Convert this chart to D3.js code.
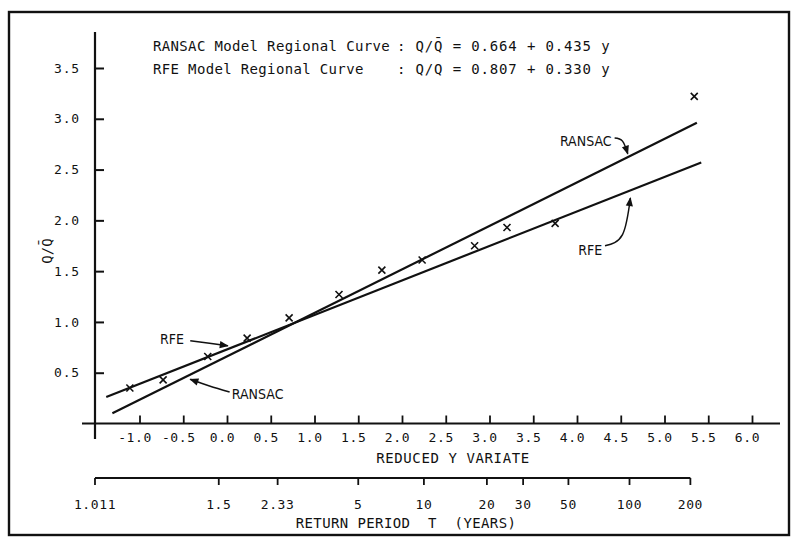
<!DOCTYPE html>
<html>
<head>
<meta charset="utf-8">
<script src="https://cdn.jsdelivr.net/npm/d3@7"></script>
<style>
  html, body { margin: 0; padding: 0; background: #fff; }
  svg text { font-family: "DejaVu Sans Mono", "Liberation Mono", monospace; fill: #111; }
</style>
</head>
<body>
<svg id="chart" width="792" height="539"></svg>
<script>
// data
const reducedTicks = [-1.0, -0.5, 0.0, 0.5, 1.0, 1.5, 2.0, 2.5, 3.0, 3.5, 4.0, 4.5, 5.0, 5.5, 6.0];
const reducedLabels = ["-1.0", "-0.5", "0.0", "0.5", "1.0", "1.5", "2.0", "2.5", "3.0", "3.5", "4.0", "4.5", "5.0", "5.5", "6.0"];
const qTicks = [0.5, 1.0, 1.5, 2.0, 2.5, 3.0, 3.5];
const qLabels = ["0.5", "1.0", "1.5", "2.0", "2.5", "3.0", "3.5"];
const returnPeriods = [1.011, 1.5, 2.33, 5, 10, 20, 30, 50, 100, 200];
const returnLabels = ["1.011", "1.5", "2.33", "5", "10", "20", "30", "50", "100", "200"];

// observed points (reduced variate, Q/Qbar)
const obsY = [-1.11, -0.73, -0.22, 0.23, 0.71, 1.28, 1.77, 2.23, 2.83, 3.20, 3.75, 5.34];
const obsQ = [0.35, 0.43, 0.66, 0.84, 1.04, 1.27, 1.51, 1.61, 1.75, 1.93, 1.97, 3.22];

// fitted regional curves, end points as drawn
const ransacLine = [[-1.31, 0.10], [5.37, 2.96]];
const rfeLine = [[-1.38, 0.26], [5.42, 2.57]];

// annotation labels: text, label pos, leader start, leader bend, arrow tip
const notes = [
  { text: "RANSAC", at: [4.10, 2.78], from: [4.43, 2.81], bend: [4.52, 2.78], to: [4.58, 2.655] },
  { text: "RFE", at: [4.15, 1.71], from: [4.32, 1.75], bend: [4.52, 1.86], to: [4.61, 2.22] },
  { text: "RFE", at: [-0.63, 0.83], from: [-0.42, 0.815], bend: [-0.2, 0.79], to: [0.01, 0.765] },
  { text: "RANSAC", at: [0.35, 0.29], from: [0.03, 0.31], bend: [-0.2, 0.37], to: [-0.42, 0.435] }
];

const svg = d3.select("#chart");

const x = d3.scaleLinear().domain([-1, 6]).range([139.5, 752]);
const y = d3.scaleLinear().domain([0, 3.5]).range([423.5, 68]);
const gumbel = T => -Math.log(-Math.log(1 - 1 / T));
const xT = T => x(gumbel(T));

// frame
svg.append("rect")
  .attr("x", 9).attr("y", 12).attr("width", 780).attr("height", 523)
  .attr("fill", "none").attr("stroke", "#111").attr("stroke-width", 2.4);

// y axis
svg.append("line").attr("x1", 95).attr("x2", 95).attr("y1", 32).attr("y2", 439)
  .attr("stroke", "#111").attr("stroke-width", 2.2);
const yAxis = d3.axisLeft(y).tickValues(qTicks).tickFormat((d, i) => qLabels[i])
  .tickSizeInner(-9).tickSizeOuter(0).tickPadding(15);
const gy = svg.append("g").attr("transform", "translate(95,0)").call(yAxis);
gy.select(".domain").remove();
gy.selectAll(".tick line").attr("stroke", "#111").attr("stroke-width", 2);
gy.selectAll(".tick text").style("font-size", "13px").style("letter-spacing", "0.8px")
  .attr("fill", "#111");

// x axis (reduced variate)
svg.append("line").attr("x1", 82).attr("x2", 780).attr("y1", y(0)).attr("y2", y(0))
  .attr("stroke", "#111").attr("stroke-width", 2.2);
const xAxis = d3.axisBottom(x).tickValues(reducedTicks).tickFormat((d, i) => reducedLabels[i])
  .tickSizeInner(-8).tickSizeOuter(0).tickPadding(9);
const gx = svg.append("g").attr("transform", `translate(0,${y(0)})`).call(xAxis);
gx.select(".domain").remove();
gx.selectAll(".tick line").attr("stroke", "#111").attr("stroke-width", 1.8);
gx.selectAll(".tick text").style("font-size", "13px").style("letter-spacing", "0.6px")
  .attr("fill", "#111").attr("dx", -5);

svg.append("text").attr("x", 453).attr("y", 463).attr("text-anchor", "middle")
  .style("font-size", "14px").style("letter-spacing", "0.6px")
  .text("REDUCED Y VARIATE");

// return period axis
const rpY = 478;
svg.append("line").attr("x1", xT(returnPeriods[0])).attr("x2", xT(returnPeriods[returnPeriods.length - 1]))
  .attr("y1", rpY).attr("y2", rpY).attr("stroke", "#111").attr("stroke-width", 2.2);
const rp = svg.append("g").selectAll("g").data(returnPeriods).join("g")
  .attr("transform", d => `translate(${xT(d)},${rpY})`);
rp.append("line").attr("y1", 0).attr("y2", 7).attr("stroke", "#111").attr("stroke-width", 1.8);
rp.append("text").attr("y", 31).attr("text-anchor", "middle")
  .style("font-size", "13px").style("letter-spacing", "0.6px")
  .text((d, i) => returnLabels[i]);

svg.append("text").attr("x", 406).attr("y", 528).attr("text-anchor", "middle")
  .style("font-size", "14px").style("letter-spacing", "0.4px").style("white-space", "pre")
  .text("RETURN PERIOD  T  (YEARS)");

// y axis title
svg.append("text")
  .attr("transform", "translate(52,251) rotate(-90)")
  .attr("text-anchor", "middle")
  .style("font-size", "14px")
  .text("Q/Q\u0304");

// legend text
const legend = svg.append("g").style("font-size", "14px");
legend.append("text").attr("x", 153).attr("y", 51).style("letter-spacing", "0.35px")
  .text("RANSAC Model Regional Curve");
legend.append("text").attr("x", 397).attr("y", 51).style("letter-spacing", "0.85px")
  .text(": Q/Q\u0304 = 0.664 + 0.435 y");
legend.append("text").attr("x", 153).attr("y", 74).style("letter-spacing", "0.35px")
  .text("RFE Model Regional Curve");
legend.append("text").attr("x", 397).attr("y", 74).style("letter-spacing", "0.85px")
  .text(": Q/Q = 0.807 + 0.330 y");

// fitted lines
const line = d3.line().x(d => x(d[0])).y(d => y(d[1]));
svg.append("path").datum(ransacLine).attr("d", line)
  .attr("fill", "none").attr("stroke", "#111").attr("stroke-width", 2.2);
svg.append("path").datum(rfeLine).attr("d", line)
  .attr("fill", "none").attr("stroke", "#111").attr("stroke-width", 2.2);

// observed points as x marks
const pts = obsY.map((v, i) => [v, obsQ[i]]);
const s = 3.5;
svg.append("g").selectAll("path").data(pts).join("path")
  .attr("d", d => {
    const px = x(d[0]), py = y(d[1]);
    return `M${px - s},${py - s}L${px + s},${py + s}M${px - s},${py + s}L${px + s},${py - s}`;
  })
  .attr("stroke", "#111").attr("stroke-width", 1.6).attr("fill", "none");

// annotations with leader arrows
svg.append("defs").append("marker")
  .attr("id", "arrow").attr("viewBox", "0 0 10 10").attr("refX", 9).attr("refY", 5)
  .attr("markerWidth", 7).attr("markerHeight", 6).attr("orient", "auto")
  .append("path").attr("d", "M0,1L10,5L0,9Z").attr("fill", "#111");

const curve = d3.line().x(d => x(d[0])).y(d => y(d[1])).curve(d3.curveNatural);
const ann = svg.append("g");
ann.selectAll("path").data(notes).join("path")
  .attr("d", d => curve([d.from, d.bend, d.to]))
  .attr("fill", "none").attr("stroke", "#111").attr("stroke-width", 1.5)
  .attr("marker-end", "url(#arrow)");
ann.selectAll("text").data(notes).join("text")
  .attr("x", d => x(d.at[0])).attr("y", d => y(d.at[1]) + 5)
  .attr("text-anchor", "middle")
  .style("font-family", "'Liberation Sans Narrow', 'DejaVu Sans Condensed', sans-serif")
  .style("font-size", "14px")
  .text(d => d.text);
</script>
</body>
</html>
